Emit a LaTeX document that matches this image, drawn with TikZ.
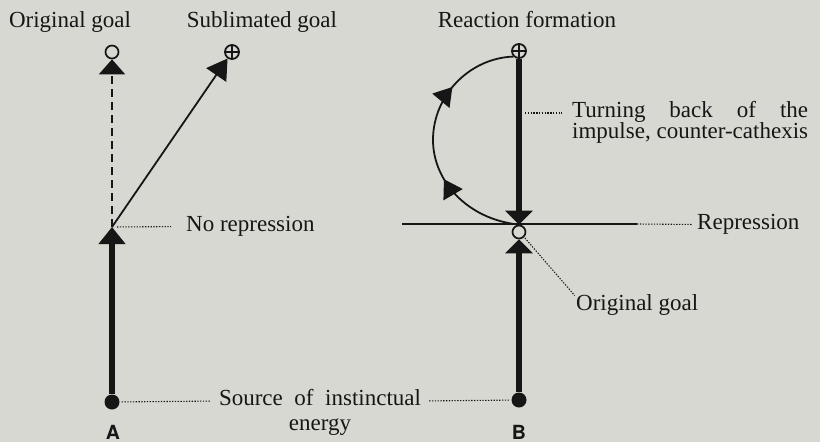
\documentclass[tikz,border=0pt]{standalone}
\usepackage{fontspec}
\setmainfont{Liberation Serif}
\setsansfont{TeX Gyre Heros}
\usetikzlibrary{arrows.meta,decorations.markings}
\definecolor{paper}{RGB}{216,216,210}
\definecolor{ink}{RGB}{22,22,22}
\begin{document}
\begin{tikzpicture}[x=1pt,y=-1pt,
  lbl/.style={font=\fontsize{23}{26}\selectfont, text=ink, inner sep=0pt},
  letter/.style={font=\sffamily\bfseries\fontsize{19.5}{21}\selectfont, text=ink, inner sep=0pt},
  thickline/.style={draw=ink, line width=6pt},
  thinline/.style={draw=ink, line width=1.8pt},
  dashline/.style={draw=ink, line width=2pt, dash pattern=on 8pt off 5pt},
  leader/.style={draw=ink, line width=1.1pt, dash pattern=on 1.3pt off 1.5pt},
  srcdot/.style={circle, fill=ink, minimum size=15pt, inner sep=0pt},
  goalcirc/.style={circle, draw=ink, line width=1.7pt, fill=paper, minimum size=13pt, inner sep=0pt},
  pluscirc/.style={circle, draw=ink, line width=1.8pt, fill=paper, minimum size=14pt, inner sep=0pt,
    path picture={\draw[ink, line width=1.6pt] (path picture bounding box.north) -- (path picture bounding box.south) (path picture bounding box.west) -- (path picture bounding box.east);}},
]
\fill[paper] (0,0) rectangle (820,442);
\useasboundingbox (0,0) rectangle (820,442);

% titles
\node[lbl, anchor=base] (t1) at (70,27) {Original goal};
\node[lbl, anchor=base] (t2) at (262,27) {Sublimated goal};
\node[lbl, anchor=base] (t3) at (527,27) {Reaction formation};

% ---------- A ----------
\node[srcdot] (srcA) at (112,402) {};
\node[goalcirc] (goalA) at (112,52) {};
\node[pluscirc] (subA) at (232,52) {};
\coordinate (jA) at (112,227);

\draw[thickline, -{Triangle[width=26pt,length=17pt]}] (srcA) -- (jA);
\draw[dashline, -{Triangle[width=26pt,length=15pt]}] (jA) -- (goalA);
\draw[thinline, -{Triangle[width=24pt,length=20pt]}] (jA) -- (subA);

\node[lbl, anchor=base west] (norep) at (186,231) {No repression};
\draw[leader, shorten <=5pt, shorten >=15pt] (jA) -- ([yshift=4.5pt]norep.base west);

% ---------- B ----------
\node[srcdot] (srcB) at (519,400) {};
\node[goalcirc] (goalB) at (519,232) {};
\node[pluscirc] (reactB) at (519,51) {};
\coordinate (repL) at (402,224);
\coordinate (repR) at (637,224);
\coordinate (turnB) at (519,113);

\draw[draw=ink, line width=1.6pt] (repL) -- (repR);
\draw[thickline, -{Triangle[width=27pt,length=14pt]}] (reactB) -- (goalB);
\draw[thickline, -{Triangle[width=27pt,length=14pt]}] (srcB) -- (goalB);

\draw[thinline, postaction={decorate},
  decoration={markings,
    mark=at position 0.35 with {\arrow{Triangle[width=22pt,length=18pt]}},
    mark=at position 0.73 with {\arrow{Triangle[width=22pt,length=18pt]}}}]
  (goalB.north) .. controls (466,219) and (433,180) .. (433,140)
  .. controls (433,95) and (470,58) .. (reactB.south west);

\node[lbl, anchor=base west] (rep) at (697,229) {Repression};
\draw[leader, shorten >=5pt] (repR) -- ([yshift=4.5pt]rep.base west);

\node[lbl, anchor=base west] (turn1) at (572,117.5) {\makebox[236pt][s]{Turning back of the}};
\node[lbl, anchor=base west] (turn2) at (572,138.5) {impulse, counter-cathexis};
\draw[leader, shorten <=6pt, shorten >=10pt] (turnB) -- ([yshift=4.5pt]turn1.base west);

\node[lbl, anchor=base west] (origB) at (576,310) {Original goal};
\draw[leader, shorten <=1pt, shorten >=2pt] (goalB.south east) -- ([yshift=13pt]origB.base west);

% source
\node[lbl, anchor=base] (src1) at (320,405) {\makebox[202pt][s]{Source of instinctual}};
\node[lbl, anchor=base] (src2) at (320,430) {energy};
\draw[leader, shorten <=2pt, shorten >=8pt] (srcA) -- ([yshift=4pt]src1.base west);
\draw[leader, shorten <=8pt, shorten >=2pt] ([yshift=4pt]src1.base east) -- (srcB);

\node[letter, anchor=base] (labA) at (113,439) {A};
\node[letter, anchor=base] (labB) at (519,439) {B};
\end{tikzpicture}
\end{document}
